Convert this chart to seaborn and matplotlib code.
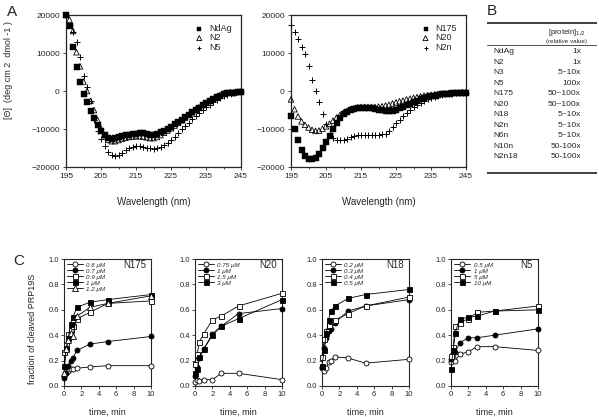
import matplotlib
matplotlib.use('Agg')
import matplotlib.pyplot as plt
import seaborn as sns
from matplotlib.ticker import MultipleLocator, FormatStrFormatter

sns.set_style('ticks')
plt.rcParams['font.family'] = ['Liberation Sans', 'DejaVu Sans']

# ---------------- panel A: CD spectra, 195-245 nm in 1 nm steps ----------------
wavelength = list(range(195, 246))

ndag = [20000, 17000, 11500, 6200, 2500, -700, -3000, -5300, -7200, -9000,
        -10600, -11700, -12300, -12500, -12300, -12000, -11800, -11600, -11500, -11400,
        -11200, -11000, -11000, -11200, -11500, -11600, -11300, -10900, -10400, -9900,
        -9400, -8800, -8200, -7600, -6900, -6200, -5600, -5000, -4400, -3800,
        -3200, -2700, -2200, -1700, -1200, -800, -500, -400, -500, -300, -200]
n2 = [20000, 18800, 15800, 10200, 6500, 2500, 0, -2600, -5000, -7600,
      -9900, -11600, -12800, -13200, -13200, -12900, -12600, -12300, -12100, -12000,
      -11900, -11900, -12000, -12200, -12400, -12400, -12100, -11600, -11000, -10400,
      -9800, -9100, -8400, -7700, -7000, -6300, -5600, -4900, -4300, -3700,
      -3100, -2600, -2100, -1600, -1100, -700, -400, -300, -300, -200, -100]
n5 = [20000, 17500, 15500, 12800, 9000, 4000, 1000, -2500, -7500, -10500,
      -12500, -14500, -16000, -16800, -17000, -16800, -16200, -15600, -15000, -14700,
      -14500, -14500, -14700, -14900, -15100, -15200, -15100, -14800, -14300, -13600,
      -12800, -12000, -11100, -10100, -9200, -8300, -7400, -6600, -5800, -5000,
      -4300, -3600, -3000, -2400, -1900, -1400, -1000, -700, -500, -300, -200]

n175 = [-6600, -10000, -13000, -15500, -17200, -18000, -18000, -17500, -16500, -15000,
        -13500, -11800, -10000, -8400, -7000, -6000, -5400, -5000, -4800, -4600,
        -4500, -4500, -4500, -4600, -4700, -4900, -5100, -5300, -5300, -5200,
        -4900, -4500, -4100, -3700, -3300, -2900, -2500, -2200, -1900, -1600,
        -1400, -1200, -1000, -900, -800, -700, -600, -500, -500, -400, -400]
n20 = [-2200, -4800, -6700, -8000, -8900, -9600, -10200, -10500, -10400, -9900,
       -9300, -8600, -7800, -7000, -6300, -5700, -5200, -4800, -4500, -4300,
       -4200, -4200, -4200, -4200, -4200, -4100, -4000, -3800, -3600, -3300,
       -3000, -2700, -2500, -2200, -2000, -1800, -1600, -1400, -1200, -1100,
       -1000, -900, -800, -700, -600, -600, -500, -400, -400, -300, -300]
n2n = [17300, 15500, 13600, 11700, 9800, 6500, 3000, 0, -2800, -6000,
       -8800, -11000, -12300, -12800, -13000, -12800, -12500, -12100, -11900, -11700,
       -11600, -11500, -11500, -11500, -11500, -11500, -11400, -11200, -10500, -9500,
       -8500, -7500, -6600, -5800, -5000, -4300, -3700, -3100, -2600, -2200,
       -1800, -1500, -1300, -1100, -900, -800, -700, -600, -500, -500, -400]

wl_ticks = [195, 205, 215, 225, 235, 245]
cd_ticks = [-20000, -10000, 0, 10000, 20000]

# ---------------- panel B: table ----------------
table_names = ['NdAg', 'N2', 'N3', 'N5', 'N175', 'N20', 'N18', 'N2n', 'N6n', 'N10n', 'N2n18']
table_values = ['1x', '1x', '5~10x', '100x', '50~100x', '50~100x', '5~10x', '5~10x',
                '5~10x', '50-100x', '50-100x']

# ---------------- panel C: cleavage time courses ----------------
time_a = [0, 0.25, 0.5, 0.75, 1, 1.5, 3, 5, 10]
time_b = [0, 0.25, 0.5, 1, 2, 3, 5, 10]

n175_labels = ['0.6 μM', '0.7 μM', '0.9 μM', '1 μM', '1.2 μM']
n175_curves = [
    [0.08, 0.10, 0.12, 0.13, 0.13, 0.14, 0.15, 0.16, 0.16],
    [0.06, 0.10, 0.16, 0.20, 0.22, 0.28, 0.33, 0.35, 0.39],
    [0.27, 0.33, 0.41, 0.44, 0.47, 0.53, 0.58, 0.65, 0.67],
    [0.16, 0.30, 0.38, 0.49, 0.54, 0.62, 0.66, 0.68, 0.72],
    [0.10, 0.29, 0.36, 0.42, 0.39, 0.55, 0.62, 0.65, 0.71],
]
n20_labels = ['0.75 μM', '1 μM', '1.5 μM', '3 μM']
n20_curves = [
    [0.03, 0.05, 0.04, 0.05, 0.05, 0.10, 0.10, 0.05],
    [0.08, 0.15, 0.22, 0.29, 0.41, 0.47, 0.57, 0.61],
    [0.17, 0.25, 0.35, 0.41, 0.52, 0.55, 0.63, 0.73],
    [0.10, 0.13, 0.23, 0.29, 0.40, 0.47, 0.53, 0.68],
]
n18_labels = ['0.2 μM', '0.3 μM', '0.4 μM', '0.5 μM']
n18_curves = [
    [0.14, 0.12, 0.14, 0.19, 0.20, 0.23, 0.22, 0.18, 0.21],
    [0.15, 0.30, 0.38, 0.43, 0.45, 0.50, 0.59, 0.63, 0.68],
    [0.23, 0.37, 0.43, 0.48, 0.51, 0.52, 0.57, 0.63, 0.70],
    [0.16, 0.28, 0.42, 0.52, 0.59, 0.63, 0.69, 0.72, 0.76],
]
n5_labels = ['0.5 μM', '1 μM', '5 μM', '10 μM']
n5_curves = [
    [0.19, 0.22, 0.20, 0.25, 0.27, 0.31, 0.31, 0.28],
    [0.21, 0.26, 0.27, 0.34, 0.38, 0.38, 0.40, 0.45],
    [0.24, 0.31, 0.47, 0.50, 0.53, 0.58, 0.59, 0.63],
    [0.13, 0.28, 0.42, 0.53, 0.54, 0.55, 0.59, 0.60],
]

# marker styles for the C panels: (marker, face colour)
c_styles = [('o', 'white'), ('o', 'black'), ('s', 'white'), ('s', 'black'), ('^', 'white')]

W, H = 599, 417
fig = plt.figure(figsize=(W / 100, H / 100), dpi=100)


def px_axes(left, top, right, bottom):
    return fig.add_axes([left / W, 1 - bottom / H, (right - left) / W, (bottom - top) / H])


def cd_panel(ax, series, labels):
    marks = [dict(marker='s', s=13, color='black', edgecolor='black', linewidth=0.3),
             dict(marker='^', s=16, color='black', facecolor='none', edgecolor='black',
                  linewidth=0.6),
             dict(marker='+', s=14, color='black', edgecolor='black', linewidth=0.7)]
    for vals, lab, kw in zip(series, labels, marks):
        sns.scatterplot(x=wavelength, y=vals, ax=ax, label=lab, clip_on=False, zorder=3, **kw)
    ax.set_xlim(195, 245)
    ax.set_ylim(-20000, 20000)
    ax.set_xticks(wl_ticks)
    ax.xaxis.set_minor_locator(MultipleLocator(5))
    ax.set_yticks(cd_ticks)
    ax.tick_params(which='both', labelsize=6, length=2.5, width=0.6, pad=2)
    ax.tick_params(which='minor', length=1.5)
    ax.set_xlabel('Wavelength (nm)', fontsize=7, labelpad=12)
    ax.set_ylabel('')
    for sp in ax.spines.values():
        sp.set_linewidth(0.9)
    ax.legend(loc='upper right', frameon=False, fontsize=6.5, handletextpad=0.1,
              labelspacing=0.05, borderaxespad=0.6, markerscale=0.9)


ax_a1 = px_axes(66, 15, 241, 167)
cd_panel(ax_a1, [ndag, n2, n5], ['NdAg', 'N2', 'N5'])
ax_a1.set_ylabel('[Θ]  (deg cm 2  dmol -1 )', fontsize=6.5)
ax_a1.yaxis.set_label_coords(-0.30, 0.64)

ax_a2 = px_axes(291, 15, 466, 167)
cd_panel(ax_a2, [n175, n20, n2n], ['N175', 'N20', 'N2n'])

# table B
ax_b = px_axes(487, 22, 597, 174)
ax_b.set_xlim(487, 597)
ax_b.set_ylim(174, 22)
ax_b.axis('off')
ax_b.axhline(23.3, color='#333333', lw=1.3)
ax_b.axhline(45, color='#333333', lw=0.6)
ax_b.axhline(173, color='#333333', lw=1.3)
ax_b.text(567, 33, '[protein]$_{1/2}$', ha='center', va='center', fontsize=5.5)
ax_b.text(566.5, 41, '(relative value)', ha='center', va='center', fontsize=4.5)
for i, (name, val) in enumerate(zip(table_names, table_values)):
    y = 51.7 + i * 10.5
    ax_b.text(493, y, name, ha='left', va='center', fontsize=6)
    ax_b.text(581, y, val, ha='right', va='center', fontsize=6)


def time_panel(ax, times, curves, labels, title):
    for vals, lab, (mk, fc) in zip(curves, labels, c_styles):
        sns.lineplot(x=times, y=vals, ax=ax, label=lab, color='black', lw=0.6,
                     marker=mk, markersize=3.6 if mk != '^' else 4.0,
                     markerfacecolor=fc, markeredgecolor='black', markeredgewidth=0.6,
                     clip_on=False, zorder=3)
    ax.set_xlim(0, 10)
    ax.set_ylim(0, 1)
    ax.xaxis.set_major_locator(MultipleLocator(2))
    ax.yaxis.set_major_locator(MultipleLocator(0.2))
    ax.yaxis.set_major_formatter(FormatStrFormatter('%.1f'))
    ax.tick_params(labelsize=5.5, length=2, width=0.6, pad=1.5)
    ax.set_xlabel('time, min', fontsize=6.5, labelpad=7)
    ax.set_ylabel('')
    for sp in ax.spines.values():
        sp.set_linewidth(0.8)
    ax.text(0.94, 0.955, title, transform=ax.transAxes, ha='right', va='center', fontsize=7)
    ax.legend(loc='upper left', frameon=False, prop={'size': 4.5, 'style': 'italic'},
              handlelength=2.6, handletextpad=0.5, labelspacing=0.1, borderaxespad=0.3,
              borderpad=0.2)


c_lefts = [64, 195, 322, 451]
c_data = [(time_a, n175_curves, n175_labels, 'N175'),
          (time_b, n20_curves, n20_labels, 'N20'),
          (time_a, n18_curves, n18_labels, 'N18'),
          (time_b, n5_curves, n5_labels, 'N5')]
c_axes = []
for left, (tt, cc, ll, name) in zip(c_lefts, c_data):
    ax = px_axes(left, 259, left + 87, 386)
    time_panel(ax, tt, cc, ll, name)
    c_axes.append(ax)

c_axes[0].set_ylabel('fraction of cleaved PRP19S', fontsize=6.5)
c_axes[0].yaxis.set_label_coords(-0.31, 0.45)

fig.text(7 / W, 1 - 12 / H, 'A', fontsize=11, va='center')
fig.text(487 / W, 1 - 11 / H, 'B', fontsize=11, va='center')
fig.text(13 / W, 1 - 261 / H, 'C', fontsize=11, va='center')

fig.savefig('out.png', dpi=100)
